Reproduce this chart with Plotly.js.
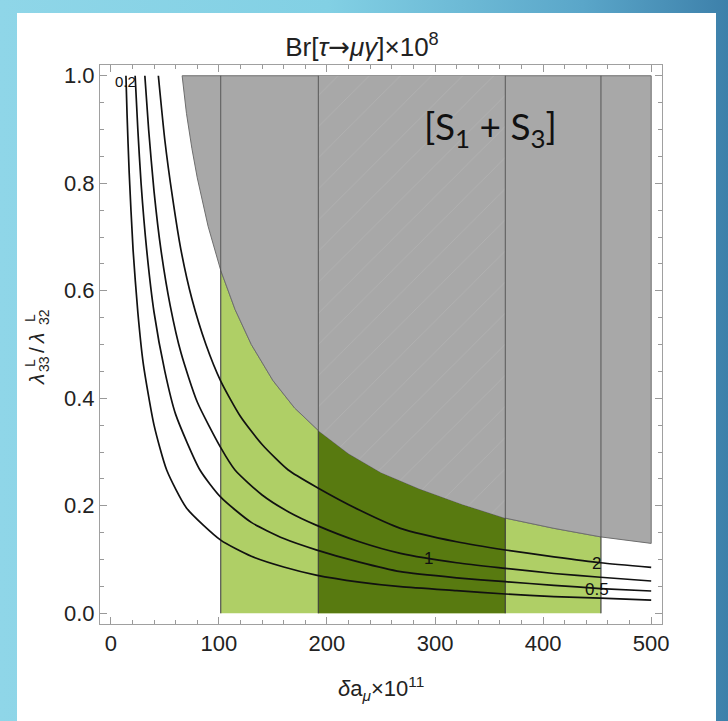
<!DOCTYPE html>
<html>
<head>
<meta charset="utf-8">
<script src="https://cdn.plot.ly/plotly-3.0.1.min.js"></script>
<style>
  html, body { margin:0; padding:0; width:728px; height:721px; overflow:hidden;
    background: linear-gradient(90deg, #8fd6e8 0%, #82d0e4 45%, #5aa6c9 80%, #3d80aa 100%); }
  #panel { position:absolute; left:17px; top:13px; width:699px; height:708px; background:#ffffff; }
  #chart { position:absolute; left:0; top:0; width:728px; height:721px; }
</style>
</head>
<body>
<div id="panel"></div>
<div id="chart"></div>
<script>
// ---- data ----
const contourLevels = ["0.2", "0.5", "1", "2"];

const c02X = [14, 15, 17, 20.6, 25, 30, 40, 51.7, 70, 101.7, 130, 160, 190, 230, 268, 320, 365, 410, 453, 500];
const c02Y = [1.0, 0.93, 0.82, 0.676, 0.56, 0.465, 0.35, 0.2665, 0.196, 0.136, 0.106, 0.086, 0.071, 0.058, 0.0494, 0.042, 0.0358, 0.031, 0.028, 0.0246];

const c05X = [22.5, 25, 28, 33.2, 40, 50, 60, 82.5, 101.7, 130, 160, 190, 230, 268, 320, 365, 410, 453, 500];
const c05Y = [1.0, 0.9, 0.8, 0.676, 0.56, 0.45, 0.37, 0.2665, 0.216, 0.169, 0.139, 0.118, 0.095, 0.0773, 0.066, 0.0587, 0.052, 0.046, 0.0414];

const c1X = [31.5, 35, 40, 46.4, 55, 65, 80, 101.7, 114.9, 140, 165, 190, 230, 268, 320, 365, 410, 453, 500];
const c1Y = [1.0, 0.9, 0.785, 0.676, 0.572, 0.484, 0.393, 0.308, 0.2665, 0.22, 0.188, 0.164, 0.133, 0.1115, 0.094, 0.0836, 0.074, 0.067, 0.060];

const c2X = [44, 50, 57, 64.9, 75, 88, 101.7, 120, 140, 164.2, 190, 230, 268, 320, 365, 410, 453, 500];
const c2Y = [1.0, 0.88, 0.775, 0.676, 0.585, 0.5, 0.432, 0.366, 0.314, 0.2665, 0.235, 0.192, 0.158, 0.133, 0.1177, 0.105, 0.094, 0.0855];

const boundX = [66, 70, 75, 80, 90, 101.7, 115, 130, 150, 170, 192, 220, 250, 285, 325, 365, 410, 453.5, 500];
const boundY = [1.0, 0.93, 0.865, 0.81, 0.72, 0.638, 0.565, 0.5, 0.433, 0.382, 0.34, 0.297, 0.262, 0.232, 0.203, 0.177, 0.158, 0.142, 0.13];

const bandLight = [101.7, 453.5];
const bandDark = [192, 365];

const xTicks = [0, 100, 200, 300, 400, 500];
const yTicks = [0.0, 0.2, 0.4, 0.6, 0.8, 1.0];
const yTickText = ["0.0", "0.2", "0.4", "0.6", "0.8", "1.0"];

// ---- build traces ----
function bandPolygon(band) {
  const xs = [band[0]], ys = [0];
  for (let i = 0; i < boundX.length; i++) {
    if (boundX[i] >= band[0] && boundX[i] <= band[1]) { xs.push(boundX[i]); ys.push(boundY[i]); }
  }
  xs.push(band[1]); ys.push(0);
  return {xs, ys};
}
function grayAbove(band) {
  const xs = [], ys = [];
  for (let i = 0; i < boundX.length; i++) {
    if (boundX[i] >= band[0] && boundX[i] <= band[1]) { xs.push(boundX[i]); ys.push(boundY[i]); }
  }
  xs.push(band[1], band[0]); ys.push(1, 1);
  return {xs, ys};
}
const lp = bandPolygon(bandLight);
const dp = bandPolygon(bandDark);
const gh = grayAbove(bandDark);

const traces = [];
traces.push({x: lp.xs, y: lp.ys, type: 'scatter', mode: 'lines', fill: 'toself',
  fillcolor: '#afcf66', line: {color: 'rgba(90,90,90,0.7)', width: 1}, hoverinfo: 'skip', showlegend: false});
traces.push({x: dp.xs, y: dp.ys, type: 'scatter', mode: 'lines', fill: 'toself',
  fillcolor: '#587a10', line: {color: 'rgba(60,60,60,0.7)', width: 1}, hoverinfo: 'skip', showlegend: false});
traces.push({x: boundX.concat([500, boundX[0]]), y: boundY.concat([1, 1]), type: 'scatter', mode: 'lines',
  fill: 'toself', fillcolor: '#a8a8a8', line: {color: '#6e6e6e', width: 1}, hoverinfo: 'skip', showlegend: false});
traces.push({x: gh.xs, y: gh.ys, type: 'scatter', mode: 'lines', fill: 'toself', fillcolor: '#a8a8a8',
  fillpattern: {shape: '/', bgcolor: '#a8a8a8', fgcolor: '#b3b3b3', size: 22, solidity: 0.04},
  line: {color: 'rgba(0,0,0,0)', width: 0}, hoverinfo: 'skip', showlegend: false});
[bandLight[0], bandDark[0], bandDark[1], bandLight[1]].forEach(b => {
  traces.push({x: [b, b], y: [0, 1], type: 'scatter', mode: 'lines',
    line: {color: 'rgba(60,60,60,0.75)', width: 1}, hoverinfo: 'skip', showlegend: false});
});
[[c02X, c02Y], [c05X, c05Y], [c1X, c1Y], [c2X, c2Y]].forEach((c, i) => {
  traces.push({x: c[0], y: c[1], type: 'scatter', mode: 'lines', name: contourLevels[i],
    line: {color: '#111111', width: 1.7, shape: 'spline', smoothing: 0.6}, showlegend: false});
});

// ---- layout ----
const L = 100, R = 662, T = 65, B = 624;
const W = R - L, H = B - T;
function px2paperX(px) { return (px - L) / W; }
function px2paperY(py) { return (B - py) / H; }

const fontMain = 'Liberation Sans, Arial, sans-serif';
const annotations = [
  {x: 13.5, y: 0.99, xref: 'x', yref: 'y', text: '0.2', showarrow: false, font: {family: fontMain, size: 15, color: '#111'}},
  {x: 293.6, y: 0.102, xref: 'x', yref: 'y', text: '1', showarrow: false, font: {family: fontMain, size: 17, color: '#111'}},
  {x: 449.5, y: 0.093, xref: 'x', yref: 'y', text: '2', showarrow: false, font: {family: fontMain, size: 17, color: '#111'}},
  {x: 449.7, y: 0.0445, xref: 'x', yref: 'y', text: '0.5', showarrow: false, font: {family: fontMain, size: 17, color: '#111'}},
  {x: 351.5, y: 0.902, xref: 'x', yref: 'y', text: '[S<sub>1</sub> + S<sub>3</sub>]', showarrow: false,
    font: {family: 'Lato, Open Sans, sans-serif', size: 37, color: '#111'}},
  {x: 0.5, y: px2paperY(688), xref: 'paper', yref: 'paper', text: '<i>δ</i>a<sub><i>μ</i></sub>×10<sup>11</sup>', showarrow: false,
    yanchor: 'middle', font: {family: fontMain, size: 22, color: '#222'}}
];
// y-axis title pieces (stacked super/subscripts)
const yTitleParts = [
  {t: '<i>λ</i>', px: 36, py: 380, s: 21},
  {t: 'L', px: 30, py: 363, s: 14},
  {t: '33', px: 44, py: 364, s: 14},
  {t: '/', px: 36, py: 350, s: 21},
  {t: '<i>λ</i>', px: 36, py: 339, s: 21},
  {t: 'L', px: 30, py: 318, s: 14},
  {t: '32', px: 44, py: 317, s: 14}
];
yTitleParts.forEach(p => annotations.push({x: px2paperX(p.px), y: px2paperY(p.py), xref: 'paper', yref: 'paper',
  text: p.t, textangle: -90, showarrow: false, xanchor: 'center', yanchor: 'middle',
  font: {family: fontMain, size: p.s, color: '#222'}}));

const axisCommon = {
  showgrid: false, zeroline: false, showline: true, linecolor: '#a0a0a0', linewidth: 1,
  mirror: 'allticks', ticks: 'inside', ticklen: 7, tickcolor: '#999', tickwidth: 1,
  tickfont: {family: fontMain, size: 22, color: '#222'}
};

const layout = {
  width: 728, height: 721,
  margin: {l: L, r: 728 - R, t: T, b: 721 - B},
  paper_bgcolor: 'rgba(0,0,0,0)', plot_bgcolor: '#ffffff',
  title: {text: 'Br[<i>τ</i><span style="font-family:DejaVu Sans">→</span><i>μγ</i>]×10<sup>8</sup>', x: 362 / 728, xanchor: 'center', y: 1 - 47 / 721, yanchor: 'middle',
    font: {family: fontMain, size: 26, color: '#222'}},
  xaxis: Object.assign({}, axisCommon, {range: [-10, 510], tickvals: xTicks, ticktext: xTicks.map(String),
    minor: {dtick: 20, tick0: 0, ticks: 'inside', ticklen: 4, tickcolor: '#999'}}),
  yaxis: Object.assign({}, axisCommon, {range: [-0.02, 1.02], tickvals: yTicks, ticktext: yTickText,
    minor: {dtick: 0.05, tick0: 0, ticks: 'inside', ticklen: 4, tickcolor: '#999'}}),
  annotations: annotations,
  showlegend: false
};

Plotly.newPlot('chart', traces, layout, {displayModeBar: false, staticPlot: true});
</script>
</body>
</html>
